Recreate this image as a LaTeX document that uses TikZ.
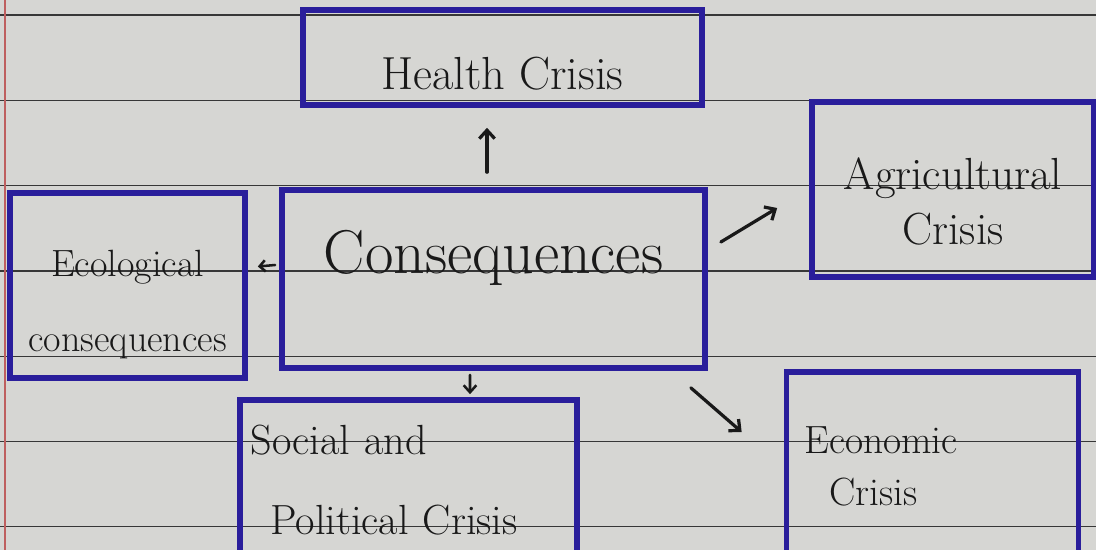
\documentclass[tikz,border=0pt]{standalone}
\usepackage{tikz}
\usetikzlibrary{arrows.meta,calc}

\definecolor{paper}{RGB}{214,214,211}
\definecolor{ruleline}{RGB}{55,55,55}
\definecolor{margin}{RGB}{190,95,95}
\definecolor{boxblue}{RGB}{42,30,155}
\definecolor{ink}{RGB}{25,25,25}

\begin{document}
\begin{tikzpicture}[
    x=0.025cm, y=-0.025cm,
    every node/.style={text=ink},
    crisis/.style={
      draw=boxblue, line width=4pt,
      inner sep=0pt, align=center
    },
    rule/.style={line width=0.9pt, ruleline},
    arrow/.style={-{Straight Barb[length=6pt,width=11pt]}, line width=2.3pt,
      line cap=round, ink}
  ]

    \path[use as bounding box] (0,0) rectangle (1096,550);
    \clip (0,0) rectangle (1096,550);
    \fill[paper] (0,0) rectangle (1096,550);
    \foreach \k in {0,...,6}
      \draw[rule] (0,{15+85.3*\k}) -- (1096,{15+85.3*\k});
    \draw[margin, line width=1.2pt] (5,0) -- (5,550);

    \node[crisis, minimum width=10.575cm, minimum height=4.45cm,
          font=\fontsize{44}{50}\selectfont] (cons) at (493.5,279)
      {\rule[-39pt]{0pt}{39pt}Consequences};
    \node[crisis, minimum width=9.975cm, minimum height=2.375cm,
          font=\fontsize{33}{38}\selectfont] (health) at (502.5,57.5)
      {\rule{0pt}{46pt}Health Crisis};
    \node[crisis, minimum width=7.05cm, minimum height=4.375cm,
          font=\fontsize{32}{39}\selectfont] (agri) at (953,189.5)
      {\rule{0pt}{40pt}Agricultural\\Crisis};
    \node[crisis, minimum width=5.875cm, minimum height=4.625cm,
          font=\fontsize{27}{53}\selectfont] (eco) at (127.5,285.5)
      {\rule{0pt}{46pt}Ecological\\consequences};
    \node[crisis, minimum width=8.425cm, minimum height=4cm, align=left,
          text width=7.9cm, inner xsep=0.25cm,
          font=\fontsize{30}{57}\selectfont] (social) at (408.5,480)
      {Social and\\\hspace*{0.5cm}Political Crisis};
    \node[crisis, minimum width=7.275cm, minimum height=4.7cm, align=left,
          text width=6.4cm, inner xsep=0.45cm,
          font=\fontsize{28}{37}\selectfont] (econ) at (932.5,466)
      {Economic\\\hspace*{0.625cm}Crisis};

    \draw[arrow] ($(cons.north)+(-6.5,-15)$) -- ($(health.south)+(-15.5,20)$);
    \draw[arrow] ($(cons.east)+(13,-37)$) -- ($(agri.west)+(-32,18.5)$);
    \draw[arrow, -{Straight Barb[length=4pt,width=8pt]}, line width=1.8pt]
      ($(cons.west)+(-4,-14)$) -- ($(eco.east)+(10,-19)$);
    \draw[arrow, -{Straight Barb[length=5pt,width=9pt]}, line width=1.8pt]
      ($(cons.south)+(-23.5,4)$) -- ($(social.north)+(61.5,-3)$);
    \draw[arrow] ($(cons.south east)+(-17,17)$) -- ($(econ.west)+(-42,-34)$);

  \end{tikzpicture}
\end{document}
